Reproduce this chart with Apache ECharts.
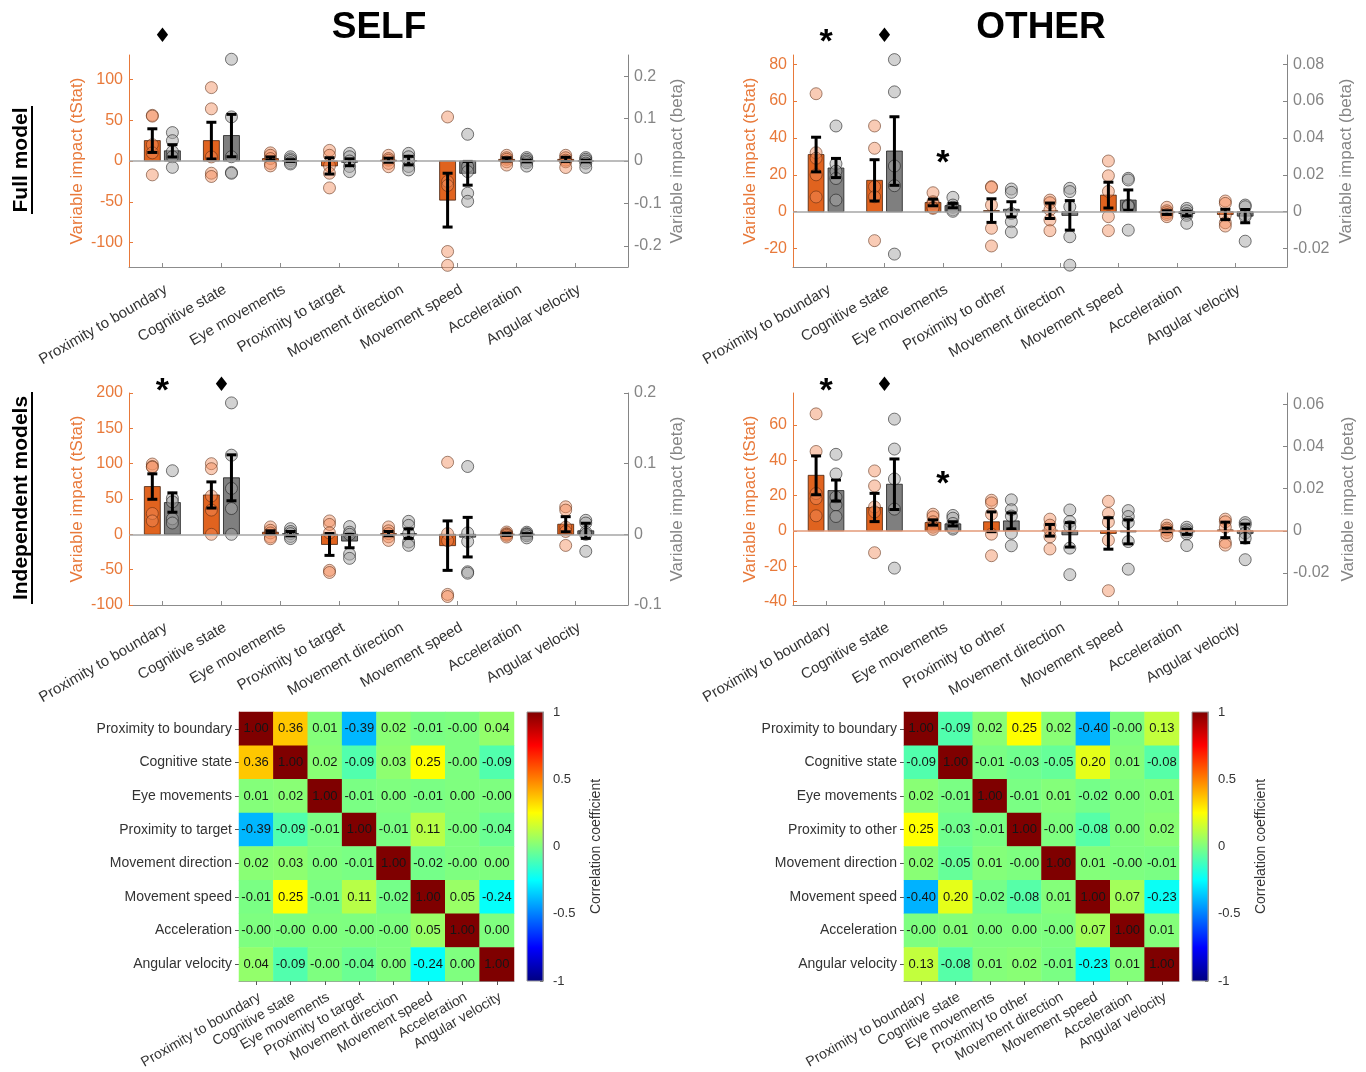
<!DOCTYPE html>
<html>
<head>
<meta charset="utf-8">
<script src="https://cdn.jsdelivr.net/npm/echarts@6/dist/echarts.min.js"></script>
<style>
  html, body { margin: 0; padding: 0; background: #ffffff; }
  #chart { width: 1366px; height: 1072px; }
</style>
</head>
<body>
<div id="chart"></div>
<script>
// ---------- categories ----------
const selfCats = ['Proximity to boundary', 'Cognitive state', 'Eye movements', 'Proximity to target',
  'Movement direction', 'Movement speed', 'Acceleration', 'Angular velocity'];
const otherCats = ['Proximity to boundary', 'Cognitive state', 'Eye movements', 'Proximity to other',
  'Movement direction', 'Movement speed', 'Acceleration', 'Angular velocity'];

// ---------- SELF, full model ----------
const selfFullT = [25, 25, 3, -6, 1, -48, 2, 2];
const selfFullTErr = [14.5, 22.5, 2, 10, 2.5, 33, 2, 2.5];
const selfFullTDots = [
  [56, 55, 20, 10, -17], [90, 64, 5, -15, -19], [10, 7, 3, -3, -6], [13, 7, -6, -15, -33],
  [7, 3, 1, -3, -7], [54, -25, -30, -111, -128], [7, 4, 2, -1, -5], [7, 4, 1, -1, -8]];
const selfFullB = [0.024, 0.060, 0.001, -0.003, 0.001, -0.029, 0.000, 0.000];
const selfFullBErr = [0.0145, 0.050, 0.002, 0.008, 0.010, 0.028, 0.002, 0.002];
const selfFullBDots = [
  [0.067, 0.048, 0.022, 0.010, -0.015], [0.240, 0.104, 0.010, -0.027, -0.029],
  [0.010, 0.005, 0.001, -0.004, -0.007], [0.018, 0.010, 0.000, -0.013, -0.025],
  [0.018, 0.010, 0.000, -0.013, -0.021], [0.063, -0.013, -0.025, -0.076, -0.095],
  [0.008, 0.004, 0.000, -0.004, -0.012], [0.008, 0.004, 0.000, -0.005, -0.015]];
const selfFullMarks = [[1, 152, '♦']];

// ---------- OTHER, full model ----------
const otherFullT = [31, 17, 5, 0.6, 0.5, 9, -0.5, -1.5];
const otherFullTErr = [9.4, 11.2, 1.8, 6.4, 4.2, 7, 1, 2.8];
const otherFullTDots = [
  [64, 32, 29, 20, 8], [46.5, 34.4, 13.6, 8.1, -15.7], [10.3, 5.4, 4.6, 2.2, 1.8],
  [13.6, 13.2, 3.6, -9, -18.6], [6.3, 4.9, 1, -4.5, -10.3], [27.5, 19.5, 11, -2.7, -10.3],
  [2.4, 0.5, -0.5, -1.5, -2.7], [5.8, 4.5, -1.8, -6, -7.8]];
const otherFullB = [0.0237, 0.0329, 0.0033, 0.0013, -0.0020, 0.0063, -0.0010, -0.0024];
const otherFullBErr = [0.0052, 0.0186, 0.0012, 0.0041, 0.0080, 0.0055, 0.0012, 0.0036];
const otherFullBDots = [
  [0.0465, 0.026, 0.022, 0.018, 0.0063], [0.0825, 0.065, 0.0248, 0.0141, -0.023],
  [0.0078, 0.0036, 0.0024, 0.001, 0.0002], [0.0123, 0.0105, -0.001, -0.0054, -0.011],
  [0.0127, 0.0109, 0.0027, -0.0136, -0.029], [0.0181, 0.0172, 0.0036, -0.010, 0.003],
  [0.0018, 0.0005, -0.001, -0.002, -0.0063], [0.0036, 0.0027, -0.0018, -0.0027, -0.016]];
const otherFullMarks = [[1, 95, '*'], [2, 95, '♦'], [3, 29.5, '*']];

// ---------- SELF, independent models ----------
const selfIndT = [67.6, 55.7, 3, -14.3, 1, -16, 0, 14.3];
const selfIndTErr = [18, 18.5, 2, 15.5, 3, 35, 1.5, 10.7];
const selfIndTDots = [
  [99.5, 96, 95, 29.5, 19], [100, 92.9, 54.3, 34.3, 0], [10.5, 5.7, 2, -3.8, -6.2],
  [19, 14, 2, -51, -54], [10.5, 5, 1, -3.5, -8.6], [102, 1, -9, -85, -88],
  [3.3, 1, 0, -1.5, -3.8], [39, 34.3, 10, 4, -15.7]];
const selfIndB = [0.045, 0.080, 0.001, -0.0095, 0.001, -0.004, 0.000, 0.005];
const selfIndBErr = [0.0137, 0.0325, 0.003, 0.0095, 0.0068, 0.028, 0.001, 0.0107];
const selfIndBDots = [
  [0.090, 0.051, 0.046, 0.022, 0.016], [0.186, 0.112, 0.065, 0.0365, 0.0],
  [0.008, 0.004, 0.001, -0.003, -0.006], [0.011, 0.003, 0.000, -0.028, -0.034],
  [0.0184, 0.0127, 0.001, -0.0108, -0.0156], [0.096, 0.002, -0.010, -0.053, -0.055],
  [0.003, 0.001, 0.000, -0.002, -0.005], [0.0198, 0.016, 0.003, 0.000, -0.024]];
const selfIndMarks = [[1, 210, '*'], [2, 210, '♦']];

// ---------- OTHER, independent models ----------
const otherIndT = [31.4, 13.2, 4.7, 5.1, 0.3, -1.5, 0.5, 0.5];
const otherIndTErr = [11, 8, 1.5, 5.6, 3.3, 8.9, 1, 4.4];
const otherIndTDots = [
  [66.2, 44.9, 21.1, 18.2, 8.5], [33.9, 25.4, 13.5, 10.7, -12.4], [9.4, 7.9, 5.1, 2, 0.8],
  [17.3, 15.8, 9.4, -1.9, -14.1], [6.6, 3.2, 0.5, -3.4, -10.3], [16.7, 9.8, 5, -5.3, -33.9],
  [3.2, 1.5, 0.5, -1, -2.8], [6.6, 5.1, 2, -6.5, -8.1]];
const otherIndB = [0.0191, 0.0221, 0.0033, 0.0047, -0.0019, -0.0005, -0.0005, -0.0012];
const otherIndBErr = [0.005, 0.012, 0.001, 0.0038, 0.0058, 0.0057, 0.0012, 0.0044];
const otherIndBDots = [
  [0.0363, 0.027, 0.016, 0.0123, 0.0068], [0.053, 0.0388, 0.0246, 0.0103, -0.0177],
  [0.0073, 0.006, 0.0035, 0.0015, 0.0008], [0.0147, 0.010, 0.007, -0.0011, -0.0071],
  [0.0099, 0.0044, 0.002, -0.0082, -0.0208], [0.0096, 0.0068, 0.004, -0.0051, -0.0182],
  [0.0017, 0.0005, -0.0005, -0.0015, -0.007], [0.0039, 0.0028, -0.0011, -0.0035, -0.0137]];
const otherIndMarks = [[1, 82, '*'], [2, 82, '♦'], [3, 29.3, '*']];

// ---------- axis tick labels ----------
const selfFullTTicks = [-100, -50, 0, 50, 100];
const selfFullBTicks = [-0.2, -0.1, 0, 0.1, 0.2];
const otherFullTTicks = [-20, 0, 20, 40, 60, 80];
const otherFullBTicks = [-0.02, 0, 0.02, 0.04, 0.06, 0.08];
const selfIndTTicks = [-100, -50, 0, 50, 100, 150, 200];
const selfIndBTicks = [-0.1, 0, 0.1, 0.2];
const otherIndTTicks = [-40, -20, 0, 20, 40, 60];
const otherIndBTicks = [-0.02, 0, 0.02, 0.04, 0.06];
const colorbarTicks = [-1, -0.5, 0, 0.5, 1];

// ---------- correlation matrices ----------
const selfCorr = [
  [1.00, 0.36, 0.01, -0.39, 0.02, -0.01, -0.001, 0.04],
  [0.36, 1.00, 0.02, -0.09, 0.03, 0.25, -0.001, -0.09],
  [0.01, 0.02, 1.00, -0.01, 0.00, -0.01, 0.00, -0.001],
  [-0.39, -0.09, -0.01, 1.00, -0.01, 0.11, -0.001, -0.04],
  [0.02, 0.03, 0.00, -0.01, 1.00, -0.02, -0.001, 0.00],
  [-0.01, 0.25, -0.01, 0.11, -0.02, 1.00, 0.05, -0.24],
  [-0.001, -0.001, 0.00, -0.001, -0.001, 0.05, 1.00, 0.00],
  [0.04, -0.09, -0.001, -0.04, 0.00, -0.24, 0.00, 1.00]];
const otherCorr = [
  [1.00, -0.09, 0.02, 0.25, 0.02, -0.40, -0.001, 0.13],
  [-0.09, 1.00, -0.01, -0.03, -0.05, 0.20, 0.01, -0.08],
  [0.02, -0.01, 1.00, -0.01, 0.01, -0.02, 0.00, 0.01],
  [0.25, -0.03, -0.01, 1.00, -0.001, -0.08, 0.00, 0.02],
  [0.02, -0.05, 0.01, -0.001, 1.00, 0.01, -0.001, -0.01],
  [-0.40, 0.20, -0.02, -0.08, 0.01, 1.00, 0.07, -0.23],
  [-0.001, 0.01, 0.00, 0.00, -0.001, 0.07, 1.00, 0.01],
  [0.13, -0.08, 0.01, 0.02, -0.01, -0.23, 0.01, 1.00]];

// ---------- styling ----------
const FONT = '"Liberation Sans", Arial, Helvetica, sans-serif';
const ORANGE = '#E0631F';
const ORANGE_TEXT = '#E8793A';
const ORANGE_DOT = 'rgba(242,140,90,0.45)';
const ORANGE_DOT_EDGE = 'rgba(90,40,15,0.55)';
const GREY_BAR = '#7f7f7f';
const GREY_TEXT = '#858585';
const GREY_DOT = 'rgba(165,165,165,0.5)';
const GREY_DOT_EDGE = 'rgba(30,30,30,0.6)';
const AXIS_GREY = '#8c8c8c';
const LABEL = '#333333';
const JET = ['#00007F', '#0000FF', '#007FFF', '#00FFFF', '#7FFF7F', '#FFFF00', '#FF7F00', '#FF0000', '#7F0000'];
const OFF = 0.17;       // half distance between paired bars (x units)
const BAR_W = 0.27;     // bar width (x units)
const X_MIN = 0.435, X_MAX = 8.885;
const CAT_POS = [1, 2, 3, 4, 5, 6, 7, 8];

const option = {
  animation: false,
  backgroundColor: '#ffffff',
  textStyle: { fontFamily: FONT },
  grid: [], xAxis: [], yAxis: [], series: [], graphic: [], visualMap: []
};

function valueYAxis(g, pos, min, max, ticks, color, name, gap) {
  return {
    type: 'value', gridIndex: g, position: pos, min: min, max: max,
    axisLine: { show: true, onZero: false, lineStyle: { color: color, width: 1 } },
    axisTick: { show: true, inside: true, length: 4, customValues: ticks, lineStyle: { color: color } },
    axisLabel: { customValues: ticks, fontSize: 16, color: color, margin: 6, fontFamily: FONT,
      formatter: v => String(+(+v).toFixed(4)) },
    splitLine: { show: false },
    name: name, nameLocation: 'middle', nameGap: gap,
    nameTextStyle: { fontSize: 17, color: color, fontFamily: FONT }
  };
}

function barRender(fill, edge) {
  return function (params, api) {
    const x = api.value(0), v = api.value(1);
    const a = api.coord([x - BAR_W / 2, 0]);
    const b = api.coord([x + BAR_W / 2, v]);
    return {
      type: 'rect',
      shape: { x: a[0], y: Math.min(a[1], b[1]), width: b[0] - a[0], height: Math.abs(b[1] - a[1]) },
      style: { fill: fill, stroke: edge, lineWidth: 1 }
    };
  };
}

function errRender(params, api) {
  const x = api.value(0), m = api.value(1), e = api.value(2);
  const top = api.coord([x, m + e]), bot = api.coord([x, m - e]);
  const cap = 5;
  const st = { stroke: '#000000', lineWidth: 3 };
  return {
    type: 'group', children: [
      { type: 'line', shape: { x1: top[0], y1: top[1], x2: bot[0], y2: bot[1] }, style: st },
      { type: 'line', shape: { x1: top[0] - cap, y1: top[1], x2: top[0] + cap, y2: top[1] }, style: st },
      { type: 'line', shape: { x1: bot[0] - cap, y1: bot[1], x2: bot[0] + cap, y2: bot[1] }, style: st }
    ]
  };
}

function addBarPanel(p) {
  const g = option.grid.length;
  option.grid.push({ left: p.left, top: p.top, width: p.width, height: p.height,
    containLabel: false, outerBoundsMode: 'none' });
  const xi = option.xAxis.length;
  option.xAxis.push({
    type: 'value', gridIndex: g, min: X_MIN, max: X_MAX,
    axisLine: { show: true, onZero: false, lineStyle: { color: AXIS_GREY, width: 1 } },
    axisTick: { show: true, inside: true, length: 4, customValues: CAT_POS, lineStyle: { color: AXIS_GREY } },
    axisLabel: { show: true, customValues: CAT_POS, rotate: 30, margin: 15, align: 'right', verticalAlign: 'top',
      fontSize: 15, color: LABEL, fontFamily: FONT, formatter: v => p.cats[Math.round(v) - 1] },
    splitLine: { show: false }
  });
  const yl = option.yAxis.length;
  option.yAxis.push(valueYAxis(g, 'left', p.tMin, p.tMax, p.tTicks, ORANGE_TEXT, 'Variable impact (tStat)', p.tGap));
  const yr = option.yAxis.length;
  option.yAxis.push(valueYAxis(g, 'right', p.bMin, p.bMax, p.bTicks, GREY_TEXT, 'Variable impact (beta)', p.bGap));

  const tX = i => i + 1 - OFF;
  const bX = i => i + 1 + OFF;

  option.series.push({ type: 'custom', xAxisIndex: xi, yAxisIndex: yl, z: 2, silent: true,
    renderItem: barRender(ORANGE, 'rgba(60,25,5,0.75)'), data: p.tMean.map((v, i) => [tX(i), v]) });
  option.series.push({ type: 'custom', xAxisIndex: xi, yAxisIndex: yr, z: 2, silent: true,
    renderItem: barRender(GREY_BAR, 'rgba(30,30,30,0.8)'), data: p.bMean.map((v, i) => [bX(i), v]) });

  option.series.push({
    type: 'scatter', xAxisIndex: xi, yAxisIndex: yl, z: 3, silent: true,
    symbol: 'circle', symbolSize: 12,
    itemStyle: { color: ORANGE_DOT, borderColor: ORANGE_DOT_EDGE, borderWidth: 1, opacity: 1 },
    emphasis: { disabled: true },
    data: p.tDots.flatMap((arr, i) => arr.map(v => [tX(i), v])),
    markLine: { silent: true, symbol: ['none', 'none'], label: { show: false }, animation: false,
      lineStyle: { color: p.zeroColor, width: 1.5, type: 'solid' }, emphasis: { disabled: true },
      data: [{ yAxis: 0 }] }
  });
  option.series.push({
    type: 'scatter', xAxisIndex: xi, yAxisIndex: yr, z: 3, silent: true,
    symbol: 'circle', symbolSize: 12,
    itemStyle: { color: GREY_DOT, borderColor: GREY_DOT_EDGE, borderWidth: 1, opacity: 1 },
    emphasis: { disabled: true },
    data: p.bDots.flatMap((arr, i) => arr.map(v => [bX(i), v]))
  });

  option.series.push({ type: 'custom', xAxisIndex: xi, yAxisIndex: yl, z: 4, silent: true,
    renderItem: errRender, data: p.tMean.map((m, i) => [tX(i), m, p.tErr[i]]) });
  option.series.push({ type: 'custom', xAxisIndex: xi, yAxisIndex: yr, z: 4, silent: true,
    renderItem: errRender, data: p.bMean.map((m, i) => [bX(i), m, p.bErr[i]]) });

  // significance markers
  option.series.push({
    type: 'custom', xAxisIndex: xi, yAxisIndex: yl, z: 5, silent: true, clip: false,
    data: p.marks.map(m => [m[0], m[1]]),
    renderItem: function (params, api) {
      const m = p.marks[params.dataIndex];
      const pt = api.coord([api.value(0), api.value(1)]);
      const star = m[2] === '*';
      return {
        type: 'text', x: pt[0], y: pt[1] + (star ? 6 : 0),
        style: { text: m[2], fill: '#000000', align: 'center', verticalAlign: 'middle',
          font: star ? 'bold 34px ' + FONT : '20px "DejaVu Sans", ' + FONT }
      };
    }
  });
}

const heatIdx = [];
function addHeatmap(h) {
  const g = option.grid.length;
  option.grid.push({ left: h.left, top: 712, width: 275, height: 269, containLabel: false, outerBoundsMode: 'none' });
  const xi = option.xAxis.length;
  option.xAxis.push({
    type: 'category', gridIndex: g, data: h.cats, position: 'bottom',
    axisLine: { show: true, onZero: false, lineStyle: { color: '#9a9a9a' } },
    axisTick: { show: true, alignWithLabel: true, length: 4, lineStyle: { color: '#555555' } },
    axisLabel: { interval: 0, rotate: 30, align: 'right', verticalAlign: 'top', margin: 9,
      fontSize: 14, color: LABEL, fontFamily: FONT },
    splitLine: { show: false }, splitArea: { show: false }
  });
  const yi = option.yAxis.length;
  option.yAxis.push({
    type: 'category', gridIndex: g, data: h.cats, inverse: true,
    axisLine: { show: true, onZero: false, lineStyle: { color: '#9a9a9a' } },
    axisTick: { show: true, alignWithLabel: true, length: 4, lineStyle: { color: '#555555' } },
    axisLabel: { interval: 0, margin: 7, fontSize: 14, color: LABEL, fontFamily: FONT },
    splitLine: { show: false }, splitArea: { show: false }
  });
  heatIdx.push(option.series.length);
  option.series.push({
    type: 'heatmap', xAxisIndex: xi, yAxisIndex: yi, silent: true,
    data: h.matrix.flatMap((row, r) => row.map((v, c) => [c, r, v])),
    label: { show: true, fontSize: 13, color: '#151515', fontFamily: FONT,
      formatter: prm => prm.value[2].toFixed(2) },
    itemStyle: { borderWidth: 0 },
    emphasis: { disabled: true }
  });

  // colour bar
  const cg = option.grid.length;
  option.grid.push({ left: h.barLeft, top: 712, width: 16, height: 269, containLabel: false, outerBoundsMode: 'none' });
  const cx = option.xAxis.length;
  option.xAxis.push({ type: 'value', gridIndex: cg, min: 0, max: 1, show: false });
  const cy = option.yAxis.length;
  option.yAxis.push({
    type: 'value', gridIndex: cg, position: 'right', min: -1, max: 1,
    axisLine: { show: true, onZero: false, lineStyle: { color: '#8a8a8a' } },
    axisTick: { show: true, inside: true, length: 3, customValues: colorbarTicks, lineStyle: { color: '#555555' } },
    axisLabel: { customValues: colorbarTicks, fontSize: 13, color: LABEL, margin: 10, fontFamily: FONT },
    splitLine: { show: false },
    name: 'Correlation coefficient', nameLocation: 'middle', nameGap: 46,
    nameTextStyle: { fontSize: 14, color: LABEL, fontFamily: FONT }
  });
  const stops = JET.map((c, i) => ({ offset: 1 - i / (JET.length - 1), color: c }))
    .sort((s, t) => s.offset - t.offset);
  option.series.push({
    type: 'custom', xAxisIndex: cx, yAxisIndex: cy, silent: true,
    data: [[0, -1, 1, 1]],
    renderItem: function (params, api) {
      const a = api.coord([api.value(0), api.value(1)]);
      const b = api.coord([api.value(2), api.value(3)]);
      return {
        type: 'rect',
        shape: { x: a[0], y: b[1], width: b[0] - a[0], height: a[1] - b[1] },
        style: { fill: { type: 'linear', x: 0, y: 0, x2: 0, y2: 1, colorStops: stops },
          stroke: '#9a9a9a', lineWidth: 1 }
      };
    }
  });
}

addBarPanel({ left: 129, top: 55, width: 499, height: 212, cats: selfCats,
  tMin: -130, tMax: 130, tTicks: selfFullTTicks, bMin: -0.25, bMax: 0.25, bTicks: selfFullBTicks,
  tGap: 43, bGap: 41, zeroColor: '#a6a6a6',
  tMean: selfFullT, tErr: selfFullTErr, tDots: selfFullTDots,
  bMean: selfFullB, bErr: selfFullBErr, bDots: selfFullBDots, marks: selfFullMarks });
addBarPanel({ left: 793, top: 55, width: 494, height: 212, cats: otherCats,
  tMin: -30, tMax: 85, tTicks: otherFullTTicks, bMin: -0.03, bMax: 0.085, bTicks: otherFullBTicks,
  tGap: 34, bGap: 51, zeroColor: '#a6a6a6',
  tMean: otherFullT, tErr: otherFullTErr, tDots: otherFullTDots,
  bMean: otherFullB, bErr: otherFullBErr, bDots: otherFullBDots, marks: otherFullMarks });
addBarPanel({ left: 129, top: 393, width: 499, height: 212, cats: selfCats,
  tMin: -100, tMax: 200, tTicks: selfIndTTicks, bMin: -0.1, bMax: 0.2, bTicks: selfIndBTicks,
  tGap: 43, bGap: 41, zeroColor: '#a6a6a6',
  tMean: selfIndT, tErr: selfIndTErr, tDots: selfIndTDots,
  bMean: selfIndB, bErr: selfIndBErr, bDots: selfIndBDots, marks: selfIndMarks });
addBarPanel({ left: 793, top: 393, width: 494, height: 212, cats: otherCats,
  tMin: -42, tMax: 78, tTicks: otherIndTTicks, bMin: -0.0352, bMax: 0.0654, bTicks: otherIndBTicks,
  tGap: 34, bGap: 53, zeroColor: '#e39a78',
  tMean: otherIndT, tErr: otherIndTErr, tDots: otherIndTDots,
  bMean: otherIndB, bErr: otherIndBErr, bDots: otherIndBDots, marks: otherIndMarks });

addHeatmap({ left: 239, barLeft: 527, cats: selfCats, matrix: selfCorr });
addHeatmap({ left: 904, barLeft: 1192, cats: otherCats, matrix: otherCorr });

option.visualMap.push({
  type: 'continuous', show: false, min: -1, max: 1, dimension: 2,
  seriesIndex: heatIdx, inRange: { color: JET }
});

// titles and row headings
option.graphic.push(
  { type: 'text', x: 379, y: 28, silent: true,
    style: { text: 'SELF', font: 'bold 37px ' + FONT, fill: '#000000', align: 'center', verticalAlign: 'middle' } },
  { type: 'text', x: 1041, y: 28, silent: true,
    style: { text: 'OTHER', font: 'bold 37px ' + FONT, fill: '#000000', align: 'center', verticalAlign: 'middle' } },
  { type: 'group', x: 21, y: 160, rotation: Math.PI / 2, silent: true, children: [
    { type: 'text', style: { text: 'Full model', font: 'bold 21px ' + FONT, fill: '#000000', align: 'center', verticalAlign: 'middle' } },
    { type: 'line', shape: { x1: -54, y1: 11, x2: 54, y2: 11 }, style: { stroke: '#000000', lineWidth: 2 } }
  ] },
  { type: 'group', x: 21, y: 498, rotation: Math.PI / 2, silent: true, children: [
    { type: 'text', style: { text: 'Independent models', font: 'bold 21px ' + FONT, fill: '#000000', align: 'center', verticalAlign: 'middle' } },
    { type: 'line', shape: { x1: -106, y1: 11, x2: 106, y2: 11 }, style: { stroke: '#000000', lineWidth: 2 } }
  ] }
);

const chart = echarts.init(document.getElementById('chart'), null, { renderer: 'canvas' });
chart.setOption(option);
</script>
</body>
</html>
